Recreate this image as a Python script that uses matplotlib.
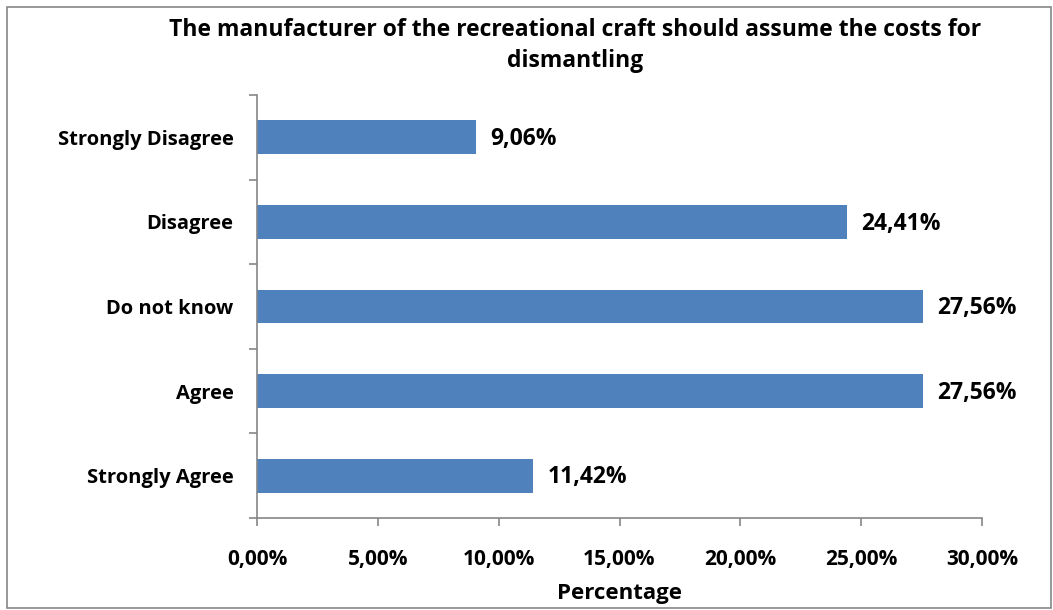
import matplotlib.pyplot as plt
from matplotlib.patches import Rectangle
from matplotlib.ticker import FixedLocator

categories = ["Strongly Agree", "Agree", "Do not know", "Disagree", "Strongly Disagree"]
values = [11.42, 27.56, 27.56, 24.41, 9.06]
value_labels = ["11,42%", "27,56%", "27,56%", "24,41%", "9,06%"]
x_ticks = [0, 5, 10, 15, 20, 25, 30]
x_tick_labels = ["0,00%", "5,00%", "10,00%", "15,00%", "20,00%", "25,00%", "30,00%"]

plt.rcParams['font.family'] = ['Open Sans', 'DejaVu Sans']
plt.rcParams['font.weight'] = 'bold'

fig = plt.figure(figsize=(10.53, 6.10), dpi=100)
ax = fig.add_axes([257 / 1053, 1 - 518 / 610, (982 - 257) / 1053, (518 - 95) / 610])

grey = "#868686"
ypos = list(range(len(categories)))
ax.barh(ypos, values, height=0.4, color="#4F81BD")

for y, v, lab in zip(ypos, values, value_labels):
    ax.text(v + 0.6, y - 0.02, lab, va="center", ha="left", fontsize=16.5, fontweight="bold")

ax.set_xlim(0, 30)
ax.set_ylim(-0.5, len(categories) - 0.5)
ax.set_xticks(x_ticks)
ax.set_xticklabels(x_tick_labels, fontsize=15, fontweight="bold")
ax.set_yticks(ypos)
ax.set_yticklabels(categories, fontsize=14.5, fontweight="bold")
ax.yaxis.set_minor_locator(FixedLocator([i - 0.5 for i in range(len(categories) + 1)]))
ax.tick_params(axis="y", which="major", length=0, pad=17)
ax.tick_params(axis="y", which="minor", length=6, color=grey, width=1.2)
ax.tick_params(axis="x", length=6, color=grey, width=1.2, pad=16)

for s in ["top", "right"]:
    ax.spines[s].set_visible(False)
for s in ["left", "bottom"]:
    ax.spines[s].set_color(grey)
    ax.spines[s].set_linewidth(1.2)

ax.set_xlabel("Percentage", fontsize=16, fontweight="bold", labelpad=10)

fig.text(575 / 1053, 1 - 30 / 610,
         "The manufacturer of the recreational craft should assume the costs for",
         ha="center", va="center", fontsize=16.5, fontweight="bold")
fig.text(575 / 1053, 1 - 61 / 610, "dismantling",
         ha="center", va="center", fontsize=16.5, fontweight="bold")

fig.patches.append(Rectangle((7 / 1053, 2 / 610), 1044 / 1053, 601 / 610,
                             transform=fig.transFigure, fill=False,
                             edgecolor=grey, linewidth=1.2))

fig.savefig("out.png", dpi=100)
